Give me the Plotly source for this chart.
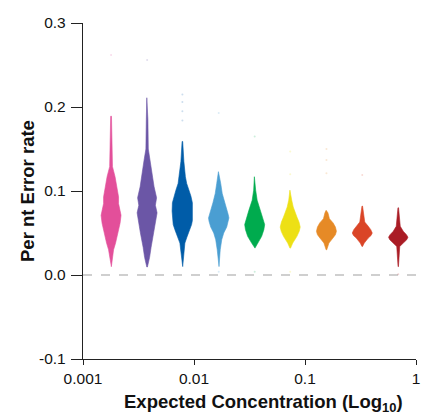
import numpy as np
import plotly.graph_objects as go

# ---------------- data ----------------
concentrations = [0.00179, 0.00378, 0.00786, 0.0167, 0.0352, 0.0736, 0.156, 0.328, 0.692]

# density profiles: error-rate levels and relative density (1 = widest)
pink_y   = [0.0099, 0.022, 0.030, 0.038, 0.050, 0.0615, 0.071, 0.078, 0.085, 0.093, 0.105, 0.117, 0.129, 0.150, 0.189]
pink_d   = [0.03, 0.15, 0.25, 0.45, 0.70, 0.90, 1.00, 0.88, 0.75, 0.75, 0.58, 0.40, 0.14, 0.08, 0.04]
purple_y = [0.0095, 0.021, 0.033, 0.050, 0.065, 0.074, 0.083, 0.092, 0.105, 0.121, 0.137, 0.150, 0.185, 0.211]
purple_d = [0.03, 0.25, 0.40, 0.67, 0.90, 1.00, 0.83, 0.95, 0.70, 0.50, 0.30, 0.12, 0.08, 0.03]
dblue_y  = [0.010, 0.025, 0.038, 0.045, 0.054, 0.060, 0.065, 0.076, 0.086, 0.094, 0.101, 0.109, 0.117, 0.135, 0.159]
dblue_d  = [0.03, 0.12, 0.25, 0.45, 0.75, 0.92, 1.00, 1.03, 1.00, 0.85, 0.65, 0.43, 0.30, 0.15, 0.03]
lblue_y  = [0.010, 0.030, 0.042, 0.050, 0.057, 0.064, 0.068, 0.072, 0.077, 0.086, 0.097, 0.109, 0.123]
lblue_d  = [0.03, 0.15, 0.30, 0.50, 0.80, 0.97, 1.02, 0.95, 0.83, 0.58, 0.35, 0.20, 0.03]
green_y  = [0.032, 0.038, 0.046, 0.054, 0.060, 0.068, 0.077, 0.089, 0.101, 0.117]
green_d  = [0.03, 0.30, 0.70, 0.92, 1.00, 0.80, 0.58, 0.25, 0.10, 0.03]
yellow_y = [0.032, 0.038, 0.046, 0.052, 0.057, 0.063, 0.069, 0.081, 0.089, 0.101]
yellow_d = [0.03, 0.25, 0.67, 0.90, 1.00, 0.88, 0.67, 0.30, 0.15, 0.03]
orange_y = [0.030, 0.038, 0.044, 0.048, 0.052, 0.057, 0.062, 0.067, 0.074, 0.077]
orange_d = [0.03, 0.25, 0.65, 0.90, 1.00, 0.90, 0.67, 0.30, 0.15, 0.03]
red_y    = [0.034, 0.038, 0.044, 0.047, 0.050, 0.054, 0.058, 0.063, 0.082]
red_d    = [0.03, 0.20, 0.60, 0.88, 1.00, 0.85, 0.60, 0.25, 0.03]
dred_y   = [0.010, 0.034, 0.038, 0.042, 0.045, 0.048, 0.052, 0.058, 0.080]
dred_d   = [0.02, 0.15, 0.50, 0.85, 0.97, 0.82, 0.50, 0.20, 0.03]

# isolated outlying observations per group
outliers = [
    [0.262],
    [0.256],
    [0.215, 0.206, 0.195, 0.184],
    [0.193, 0.004],
    [0.165, 0.004],
    [0.147, 0.120, 0.004],
    [0.150, 0.137, 0.121],
    [0.119],
    [0.001],
]

x_tick_vals = [0.001, 0.01, 0.1, 1]
x_tick_text = ["0.001", "0.01", "0.1", "1"]
y_tick_vals = [-0.1, 0.0, 0.1, 0.2, 0.3]
y_tick_text = ["-0.1", "0.0", "0.1", "0.2", "0.3"]

# ---------------- styling ----------------
colors = ["#E34F9A", "#6B56A6", "#005CA8", "#4A9ED2", "#00AB4E",
          "#EDE015", "#E68A26", "#DA4527", "#AA1C25"]
HALF_WIDTH = 0.09  # decades at density 1

profiles = [(pink_y, pink_d), (purple_y, purple_d), (dblue_y, dblue_d),
            (lblue_y, lblue_d), (green_y, green_d), (yellow_y, yellow_d),
            (orange_y, orange_d), (red_y, red_d), (dred_y, dred_d)]

fig = go.Figure()
for c, (ys, ds), col, outs in zip(concentrations, profiles, colors, outliers):
    lc = np.log10(c)
    ys = np.array(ys)
    ds = np.array(ds)
    xr = 10 ** (lc + ds * HALF_WIDTH)
    xl = 10 ** (lc - ds * HALF_WIDTH)
    xs = np.concatenate([xr, xl[::-1], xr[:1]])
    yy = np.concatenate([ys, ys[::-1], ys[:1]])
    fig.add_trace(go.Scatter(x=xs, y=yy, mode="lines", fill="toself",
                             fillcolor=col, line=dict(color=col, width=0.6),
                             hoverinfo="skip", showlegend=False))
    fig.add_trace(go.Scatter(x=[c] * len(outs), y=outs, mode="markers",
                             marker=dict(color=col, size=2, opacity=0.2),
                             hoverinfo="skip", showlegend=False))

fig.add_shape(type="line", xref="paper", yref="y", x0=0, x1=1, y0=0, y1=0,
              line=dict(color="#A0A0A0", width=1.2, dash="dash"), layer="below")

font = "Liberation Sans, Arial, Helvetica, sans-serif"
fig.update_layout(
    width=429, height=417,
    margin=dict(l=83, r=9, t=23, b=58),
    paper_bgcolor="white", plot_bgcolor="white",
    font=dict(family=font, size=15.5, color="#111"),
    xaxis=dict(type="log", range=[-3, 0], tickvals=x_tick_vals, ticktext=x_tick_text,
               showgrid=False, zeroline=False, showline=True, linecolor="#222",
               linewidth=1.3, ticks="outside", ticklen=5, tickcolor="#222",
               tickwidth=1.2, tickfont=dict(size=15.5)),
    yaxis=dict(range=[-0.1, 0.3], tickvals=y_tick_vals, ticktext=y_tick_text,
               showgrid=False, zeroline=False, showline=True, linecolor="#222",
               linewidth=1.3, ticks="outside", ticklen=11, tickcolor="#222",
               tickwidth=1.2, tickfont=dict(size=15.5), ticklabelstandoff=2),
    annotations=[
        dict(text="<b>Per nt Error rate</b>", xref="paper", yref="paper",
             x=0, y=0.5, xshift=-56, textangle=-90, showarrow=False,
             xanchor="center", yanchor="middle", font=dict(size=18.5, color="#111")),
        dict(text="<b>Expected Concentration (Log<sub>10</sub>)</b>", xref="paper",
             yref="paper", x=0.543, y=0, yshift=-44, showarrow=False,
             xanchor="center", yanchor="middle", font=dict(size=18.5, color="#111")),
    ],
)

fig.write_html("out.html", config={"displayModeBar": False},
               post_script="document.body.style.margin='0';document.body.style.padding='0';")
